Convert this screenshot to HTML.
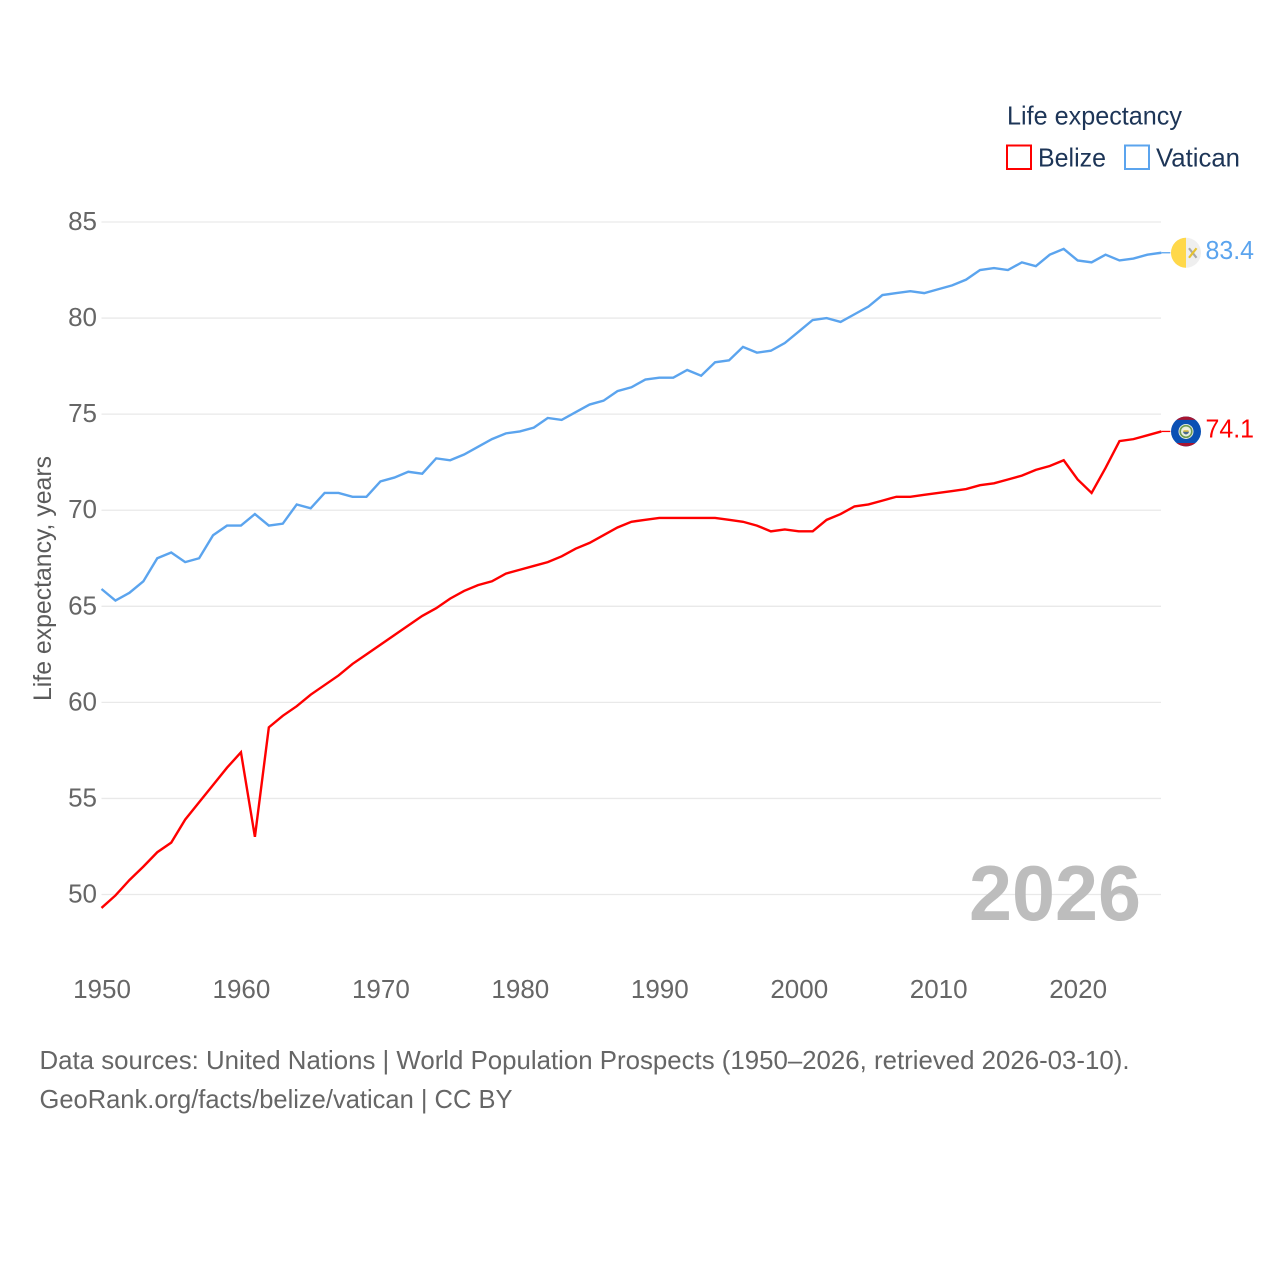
<!DOCTYPE html>
<html lang="en">
<head>
<meta charset="utf-8">
<title>Life expectancy: Belize vs Vatican</title>
<style>
html,body{margin:0;padding:0;background:#fff;width:1280px;height:1280px;overflow:hidden}
svg{display:block;font-family:"Liberation Sans",sans-serif}
</style>
</head>
<body>
<svg id="chart" width="1280" height="1280" viewBox="0 0 1280 1280" xmlns="http://www.w3.org/2000/svg">
  <rect x="0" y="0" width="1280" height="1280" fill="#fff"/>
  <g id="grid"></g>
  <g id="yticks"></g>
  <g id="xticks"></g>
  <text transform="translate(51,701) rotate(-90)" font-size="25" fill="#5b5b5b" textLength="245" lengthAdjust="spacingAndGlyphs">Life expectancy, years</text>

  <text x="1007" y="124.5" font-size="26" fill="#1d3557" textLength="175" lengthAdjust="spacingAndGlyphs">Life expectancy</text>
  <g>
    <rect x="1007" y="145.5" width="24" height="23.5" fill="none" stroke="#ff0000" stroke-width="2"/>
    <text x="1038" y="166.5" font-size="26" fill="#1d3557" textLength="68" lengthAdjust="spacingAndGlyphs">Belize</text>
  </g>
  <g>
    <rect x="1125" y="145.5" width="24" height="23.5" fill="none" stroke="#5ba4ee" stroke-width="2"/>
    <text x="1156" y="166.5" font-size="26" fill="#1d3557" textLength="84" lengthAdjust="spacingAndGlyphs">Vatican</text>
  </g>

  <text x="969" y="920" font-size="78" font-weight="bold" fill="#bdbdbd" textLength="172" lengthAdjust="spacingAndGlyphs">2026</text>

  <g id="series"></g>

  <text x="39.5" y="1069" font-size="26" fill="#666" textLength="1090" lengthAdjust="spacingAndGlyphs">Data sources: United Nations | World Population Prospects (1950–2026, retrieved 2026-03-10).</text>
  <text x="39.5" y="1108" font-size="26" fill="#666" textLength="473" lengthAdjust="spacingAndGlyphs">GeoRank.org/facts/belize/vatican | CC BY</text>
</svg>
<script>
const startYear = 1950;
const xTickYears = [1950, 1960, 1970, 1980, 1990, 2000, 2010, 2020];
const yTickValues = [50, 55, 60, 65, 70, 75, 80, 85];
const belizeValues = [49.3, 49.95, 50.75, 51.45, 52.2, 52.7, 53.9, 54.8, 55.7, 56.6, 57.4, 53.0, 58.7, 59.3, 59.8, 60.4, 60.9, 61.4, 62.0, 62.5, 63.0, 63.5, 64.0, 64.5, 64.9, 65.4, 65.8, 66.1, 66.3, 66.7, 66.9, 67.1, 67.3, 67.6, 68.0, 68.3, 68.7, 69.1, 69.4, 69.5, 69.6, 69.6, 69.6, 69.6, 69.6, 69.5, 69.4, 69.2, 68.9, 69.0, 68.9, 68.9, 69.5, 69.8, 70.2, 70.3, 70.5, 70.7, 70.7, 70.8, 70.9, 71.0, 71.1, 71.3, 71.4, 71.6, 71.8, 72.1, 72.3, 72.6, 71.6, 70.9, 72.2, 73.6, 73.7, 73.9, 74.1];
const vaticanValues = [65.9, 65.3, 65.7, 66.3, 67.5, 67.8, 67.3, 67.5, 68.7, 69.2, 69.2, 69.8, 69.2, 69.3, 70.3, 70.1, 70.9, 70.9, 70.7, 70.7, 71.5, 71.7, 72.0, 71.9, 72.7, 72.6, 72.9, 73.3, 73.7, 74.0, 74.1, 74.3, 74.8, 74.7, 75.1, 75.5, 75.7, 76.2, 76.4, 76.8, 76.9, 76.9, 77.3, 77.0, 77.7, 77.8, 78.5, 78.2, 78.3, 78.7, 79.3, 79.9, 80.0, 79.8, 80.2, 80.6, 81.2, 81.3, 81.4, 81.3, 81.5, 81.7, 82.0, 82.5, 82.6, 82.5, 82.9, 82.7, 83.3, 83.6, 83.0, 82.9, 83.3, 83.0, 83.1, 83.3, 83.4];

const NS = 'http://www.w3.org/2000/svg';
const xScale = function (year) { return 101.5 + (year - 1950) * 13.945; };
const yScale = function (v) { return 894.5 - (v - 50) * 19.214; };

function make(tag, attrs, parent, text) {
  const el = document.createElementNS(NS, tag);
  Object.keys(attrs).forEach(function (k) { el.setAttribute(k, attrs[k]); });
  if (text !== undefined) el.textContent = text;
  parent.appendChild(el);
  return el;
}

const grid = document.getElementById('grid');
const yticks = document.getElementById('yticks');
const xticks = document.getElementById('xticks');
const series = document.getElementById('series');

yTickValues.forEach(function (v) {
  const line = make('line', {x1: 101.5, x2: 1161, y1: yScale(v), y2: yScale(v), stroke: '#e9e9e9', 'stroke-width': 1.3}, grid);
  
  
  const label = make('text', {x: 97, y: yScale(v) + 8, 'text-anchor': 'end', 'font-size': 26, fill: '#666'}, yticks, String(v));
  
  
});

xTickYears.forEach(function (yr) {
  const label = make('text', {x: xScale(yr) + 0.5, y: 998, 'text-anchor': 'middle', 'font-size': 26, fill: '#666'}, xticks, String(yr));
  
  
});

function linePoints(values) {
  return values.map(function (v, i) {
    return xScale(startYear + i).toFixed(2) + ',' + yScale(v).toFixed(2);
  }).join(' ');
}

function drawSeries(values, color, key, drawFlag) {
  const g = make('g', {}, series);
  
  
  const path = make('polyline', {points: linePoints(values), fill: 'none', stroke: color, 'stroke-width': 2.4, 'stroke-linejoin': 'miter'}, g);
  
  
  const last = values[values.length - 1];
  const lx = xScale(startYear + values.length - 1);
  const ly = yScale(last);
  const leader = make('line', {x1: lx, x2: lx + 9, y1: ly, y2: ly, stroke: color, 'stroke-width': 1.3}, g);
  
  
  const flag = make('g', {transform: 'translate(1186,' + ly.toFixed(2) + ')'}, g);
  
  
  drawFlag(flag);
  const val = make('text', {x: 1205.5, y: ly + 6, 'font-size': 26, fill: color, textLength: 48.5, lengthAdjust: 'spacingAndGlyphs'}, g, last.toFixed(1));
  
  
}

function drawVaticanFlag(g) {
  make('circle', {cx: 0, cy: 0, r: 15, fill: '#efefef'}, g);
  make('path', {d: 'M0,-15 A15,15 0 0 0 0,15 Z', fill: '#ffd84a'}, g);
  make('line', {x1: 3, y1: -4.5, x2: 10.5, y2: 5, stroke: '#a8a8a8', 'stroke-width': 2.2}, g);
  make('line', {x1: 10.5, y1: -4.5, x2: 3, y2: 5, stroke: '#e6c230', 'stroke-width': 2.2}, g);
}

function drawBelizeFlag(g) {
  make('circle', {cx: 0, cy: 0, r: 15, fill: '#0a50b4'}, g);
  make('path', {d: 'M-9.5,-11.6 A15,15 0 0 1 9.5,-11.6 Z', fill: '#a81530'}, g);
  make('path', {d: 'M-9.5,11.6 A15,15 0 0 0 9.5,11.6 Z', fill: '#a81530'}, g);
  make('circle', {cx: 0, cy: 0, r: 7.5, fill: '#e8eee0'}, g);
  make('circle', {cx: 0, cy: 0, r: 5.8, fill: 'none', stroke: '#6f9a50', 'stroke-width': 1.6}, g);
  make('circle', {cx: 0, cy: 0, r: 3.4, fill: '#f4f0d8'}, g);
  make('path', {d: 'M-3,0 A3,3 0 0 0 3,0 Z', fill: '#4a6a90'}, g);
  make('path', {d: 'M-2.5,-1.2 L2.5,-1.2 L2.5,0.4 L-2.5,0.4 Z', fill: '#d8b840'}, g);
}

drawSeries(belizeValues, '#ff0000', 'belize', drawBelizeFlag);
drawSeries(vaticanValues, '#5ba4ee', 'vatican', drawVaticanFlag);
</script>
</body>
</html>
